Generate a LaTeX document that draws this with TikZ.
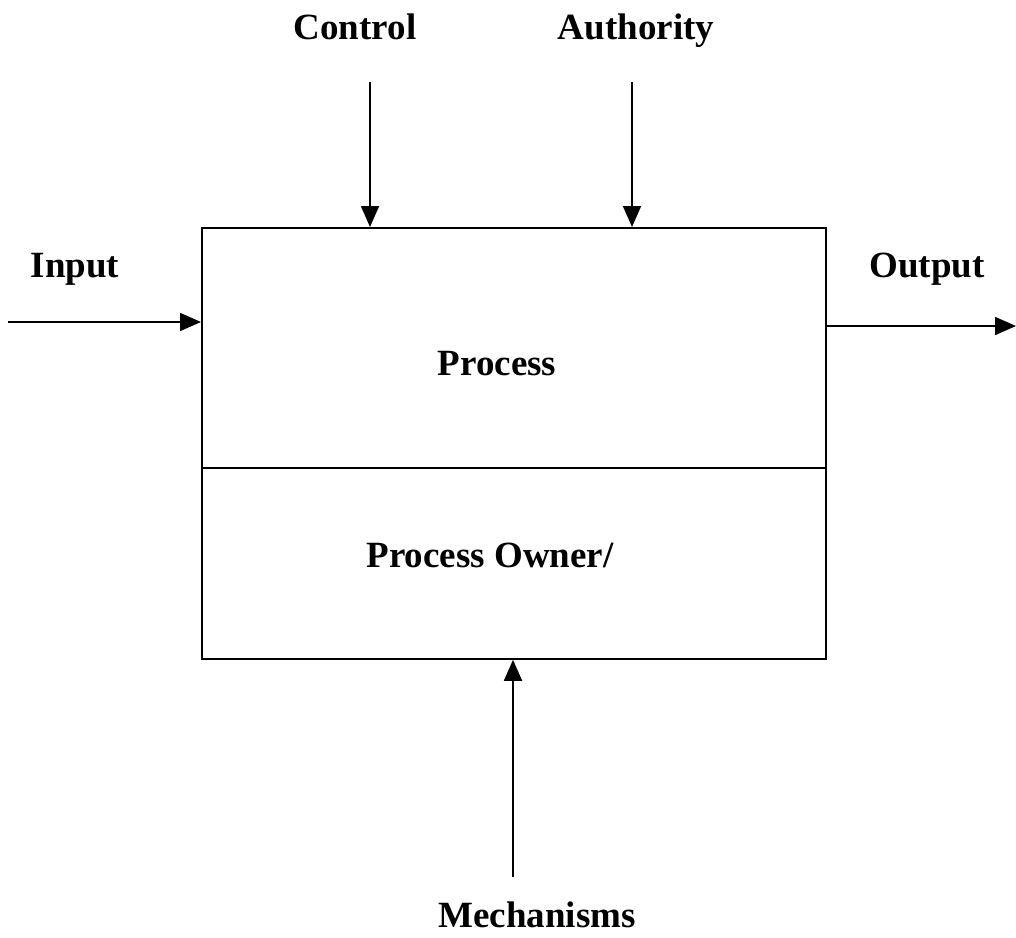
\documentclass[tikz,border=0pt]{standalone}
\usepackage{fontspec}
\setmainfont{Liberation Serif}
\usetikzlibrary{arrows.meta}
\begin{document}
\begin{tikzpicture}[x=1pt,y=-1pt,
  lbl/.style={anchor=base,inner sep=0pt,font=\fontsize{37}{44}\selectfont\bfseries},
  boxpart/.style={draw,line width=1.8pt,inner sep=0pt,anchor=north west},
  flow/.style={line width=1.8pt,-{Triangle[length=21pt,width=18pt]}}]
\useasboundingbox (0,0) rectangle (1016,937);
\node[boxpart,minimum width=624pt,minimum height=240pt] (proc) at (201,227) {};
\node[boxpart,minimum width=624pt,minimum height=191pt] (owner) at (201,467) {};
\node[lbl] (ptext) at (497,375) {Process};
\node[lbl] (otext) at (490,567) {Process Owner/};
\node[lbl] (ctl) at (355,39) {Control};
\node[lbl] (auth) at (636,39) {Authority};
\node[lbl] (inp) at (75,277) {Input};
\node[lbl] (outp) at (927,277) {Output};
\node[lbl] (mech) at (537,927) {Mechanisms};
\coordinate (cs) at (370,82);
\coordinate (as) at (632,82);
\coordinate (is) at (8,322);
\coordinate (oe) at (1016,326);
\coordinate (ms) at (513,877);
\draw[flow] (cs) -- (cs |- proc.north);
\draw[flow] (as) -- (as |- proc.north);
\draw[flow] (is) -- (is -| proc.west);
\draw[flow] (oe -| proc.east) -- (oe);
\draw[flow] (ms) -- (ms |- owner.south);
\end{tikzpicture}
\end{document}
